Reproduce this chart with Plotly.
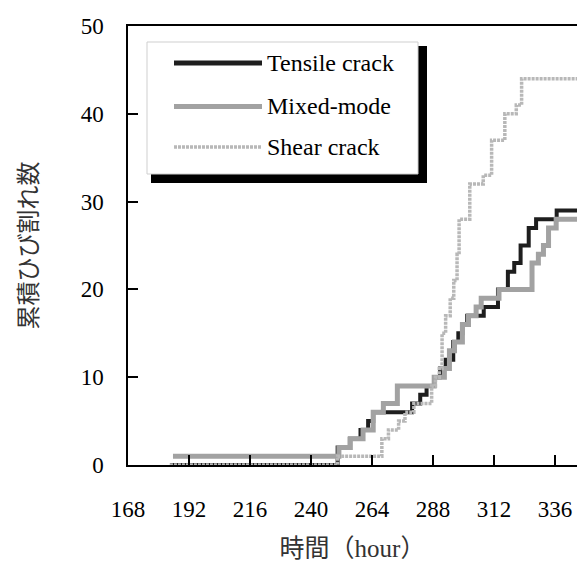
import plotly.graph_objects as go

# ---- data ----
tensile_hours = [184.5, 250.5, 255.3, 259.5, 262.5, 264.5, 279.8, 283.0, 285.5, 288.5, 290.8, 293.0,
                 296.0, 298.0, 299.6, 301.5, 308.0, 313.6, 317.5, 320.0, 322.5, 325.7, 328.6, 336.7, 346.0]
tensile_counts = [0, 2, 3, 4, 5, 6, 7, 8, 9, 10, 11, 12,
                  14, 15, 16, 17, 18, 20, 22, 23, 25, 27, 28, 29, 29]

mixed_hours = [185.7, 251.0, 255.5, 260.5, 264.5, 268.5, 274.0, 288.5, 292.5, 294.5, 296.5, 299.6,
               302.0, 305.0, 307.0, 314.0, 327.0, 329.5, 331.5, 333.5, 336.5, 346.0]
mixed_counts = [1, 2, 3, 4, 6, 7, 9, 10, 11, 13, 14, 16,
                17, 18, 19, 20, 23, 24, 25, 27, 28, 28]

shear_hours = [184.5, 250.5, 267.9, 270.5, 274.5, 277.0, 280.5, 287.5, 289.0, 290.5, 291.6, 293.0,
               294.8, 296.2, 297.5, 298.3, 302.5, 307.8, 311.1, 316.3, 320.8, 322.9, 346.0]
shear_counts = [0, 1, 3, 4, 5, 6, 7, 9, 10, 11, 15, 17,
                19, 21, 24, 28, 32, 33, 37, 40, 41, 44, 44]

series_names = ["Tensile crack", "Mixed-mode", "Shear crack"]
x_ticks = [168, 192, 216, 240, 264, 288, 312, 336]
y_ticks = [0, 10, 20, 30, 40, 50]

x_title = "時間（hour）"
y_title = "累積ひび割れ数"

# ---- styles ----
colors = ["#1e1e1e", "#a2a2a2", "#b8b8b8"]
widths = [4, 5, 3.5]
dashes = ["solid", "solid", "3px,1px"]
serif = "Liberation Serif, Times New Roman, serif"
jp = "Liberation Serif, Noto Sans CJK JP, serif"

fig = go.Figure()
for name, xs, ys, c, w, d in zip(series_names,
                                 [tensile_hours, mixed_hours, shear_hours],
                                 [tensile_counts, mixed_counts, shear_counts],
                                 colors, widths, dashes):
    fig.add_trace(go.Scatter(x=xs, y=ys, mode="lines", name=name,
                             line=dict(color=c, width=w, dash=d, shape="hv"),
                             showlegend=False))

W, H = 577, 562
L, R, T, B = 128, 0, 26, 97
pw, ph = W - L - R, H - T - B


def px(x):
    return (x - L) / pw


def py(y):
    return (H - B - y) / ph


# legend (drawn by hand to match the long line samples and the drop shadow)
shapes = [
    dict(type="rect", xref="paper", yref="paper", x0=px(151), x1=px(427), y0=py(183), y1=py(46),
         fillcolor="black", line=dict(width=0), layer="above"),
    dict(type="rect", xref="paper", yref="paper", x0=px(147), x1=px(418), y0=py(174), y1=py(42),
         fillcolor="white", line=dict(color="#cfcfcf", width=1), layer="above"),
]
annotations = []
legend_y = [63, 106.5, 147]
for name, c, w, d, ly in zip(series_names, colors, widths, dashes, legend_y):
    shapes.append(dict(type="line", xref="paper", yref="paper", x0=px(174), x1=px(262),
                       y0=py(ly), y1=py(ly), layer="above",
                       line=dict(color=c, width=w + (1 if w == 4 else 0), dash=d)))
    annotations.append(dict(xref="paper", yref="paper", x=px(265), y=py(ly), text=name,
                            showarrow=False, xanchor="left", yanchor="middle",
                            font=dict(family=serif, size=24, color="black")))

fig.update_layout(
    width=W, height=H,
    margin=dict(l=L, r=R, t=T, b=B, autoexpand=False),
    paper_bgcolor="white", plot_bgcolor="white",
    showlegend=False,
    shapes=shapes, annotations=annotations,
    xaxis=dict(range=[168, 344.7], tickvals=x_ticks, ticktext=[str(v) for v in x_ticks],
               ticks="inside", ticklen=10, tickwidth=1.5, tickcolor="black",
               showline=True, linecolor="black", linewidth=1.5, mirror=True,
               showgrid=False, zeroline=False, ticklabelstandoff=23,
               tickfont=dict(family=serif, size=23, color="black"),
               title=dict(text=x_title, standoff=20,
                          font=dict(family=jp, size=25, color="#333"))),
    yaxis=dict(range=[0, 50], tickvals=y_ticks,
               ticks="inside", ticklen=10, tickwidth=1.5, tickcolor="black",
               showline=True, linecolor="black", linewidth=1.5, mirror=False,
               showgrid=False, zeroline=False, ticklabelstandoff=18,
               tickfont=dict(family=serif, size=23, color="black"),
               title=dict(text=y_title, standoff=36,
                          font=dict(family=jp, size=24, color="#333"))),
)

fig.write_html("out.html")
